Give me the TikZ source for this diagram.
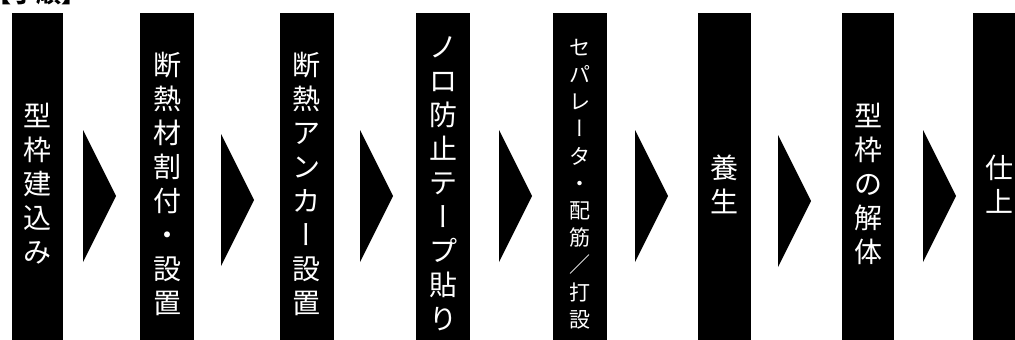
\documentclass[tikz,border=0pt]{standalone}
\usepackage{fontspec}
\setmainfont{Noto Sans CJK JP}
\newfontfamily\jpvert[RawFeature=+vert]{Noto Sans CJK JP}
\newcommand{\vlong}{{\jpvert ー}}

\tikzset{
  stepbar/.style={fill=black, text=white, minimum width=54, minimum height=342,
    inner sep=0, align=center, font=\fontsize{28}{34}\selectfont},
}

\begin{document}
\begin{tikzpicture}[x=1pt, y=-1pt]
\useasboundingbox (0,0) rectangle (1015,340);
\clip (0,0) rectangle (1015,340);

% Title
\node[anchor=base west, font=\bfseries\fontsize{25}{25}\selectfont] (title) at (-17,2) {【手順】};

% Steps
\node[stepbar, minimum width=51] (s1) at (37.5,184) {型\\枠\\建\\込\\み};
\node[stepbar] (s2) at (167,184) {断\\熱\\材\\割\\付\\・\\設\\置};
\node[stepbar] (s3) at (306.5,184) {断\\熱\\ア\\ン\\カ\\\vlong\\設\\置};
\node[stepbar] (s4) at (443,184) {ノ\\ロ\\防\\止\\テ\\\vlong\\プ\\貼\\り};
\node[stepbar, font=\fontsize{21}{27.2}\selectfont] (s5) at (580,184) {セ\\パ\\レ\\\vlong\\タ\\・\\配\\筋\\／\\打\\設};
\node[stepbar, minimum width=53] (s6) at (724.5,184) {養\\生};
\node[stepbar, minimum width=52] (s7) at (868,184) {型\\枠\\の\\解\\体};
\node[stepbar, minimum width=52] (s8) at (999,184) {仕\\上};

% Arrows
\foreach \ax/\ay in {83/196, 221/200, 360/196, 499/196, 635/196, 778/201, 923/196}
  \fill (\ax,\ay-66) -- (\ax+33,\ay) -- (\ax,\ay+66) -- cycle;

\end{tikzpicture}
\end{document}
